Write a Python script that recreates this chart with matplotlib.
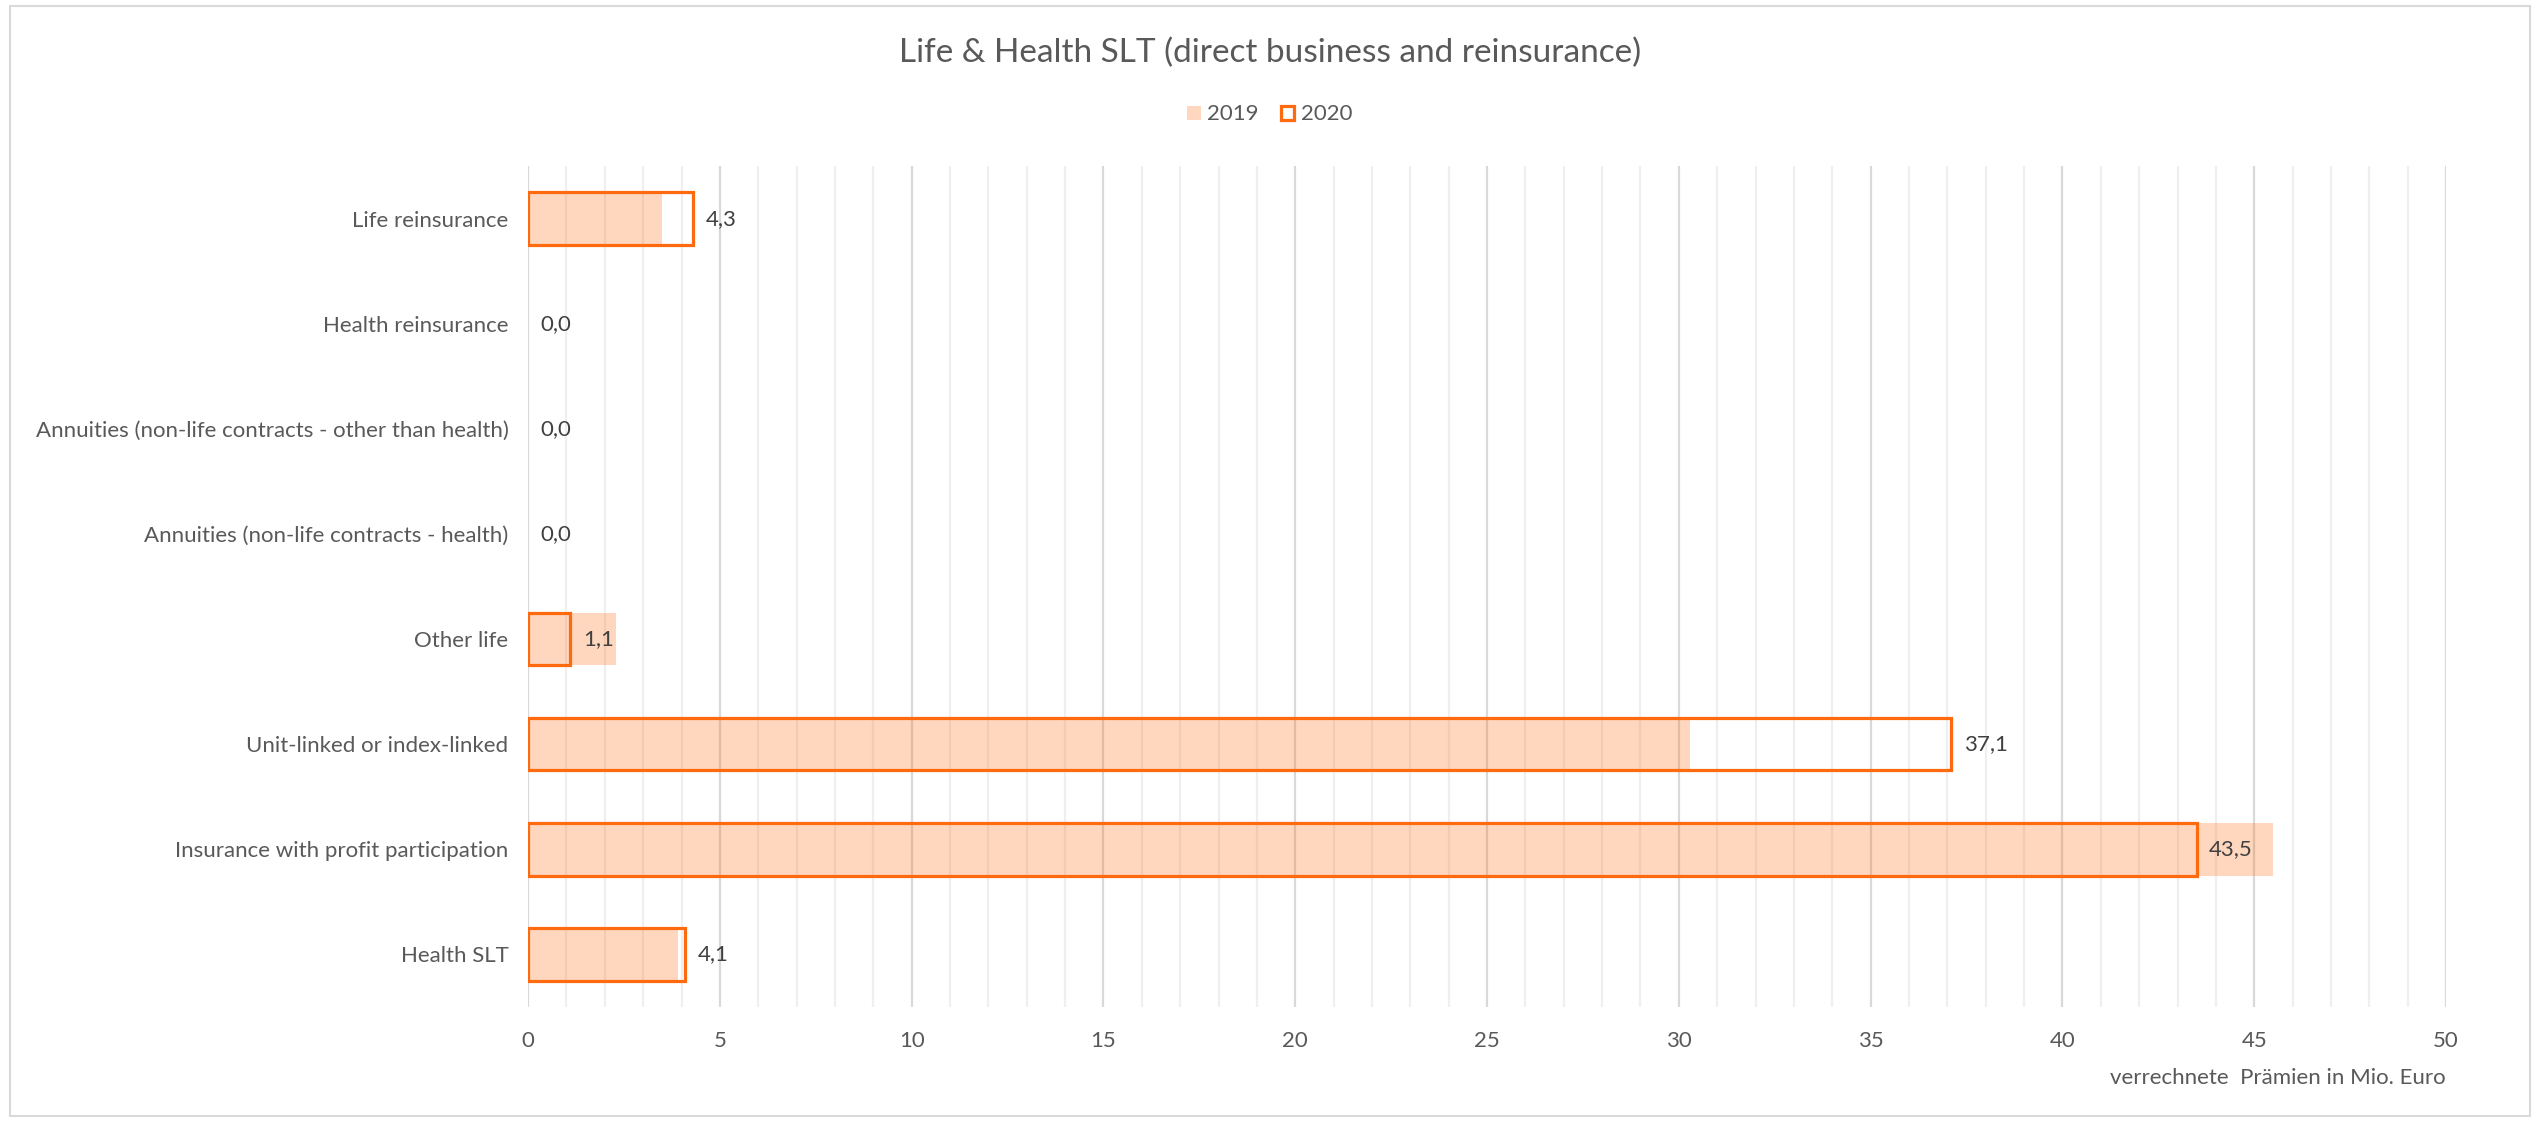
import matplotlib
matplotlib.use("Agg")
import matplotlib.pyplot as plt
from matplotlib.patches import Rectangle, Patch
import numpy as np

categories = [
    "Life reinsurance",
    "Health reinsurance",
    "Annuities (non-life contracts - other than health)",
    "Annuities (non-life contracts - health)",
    "Other life",
    "Unit-linked or index-linked",
    "Insurance with profit participation",
    "Health SLT",
]
values_2019 = [3.5, 0.0, 0.0, 0.0, 2.3, 30.3, 45.5, 3.9]
values_2020 = [4.3, 0.0, 0.0, 0.0, 1.1, 37.1, 43.5, 4.1]
series_names = ["2019", "2020"]
x_ticks = [0, 5, 10, 15, 20, 25, 30, 35, 40, 45, 50]

plt.rcParams['font.family'] = ['Lato', 'DejaVu Sans']
text_color = '#595959'
orange = '#FF6A0F'

fig = plt.figure(figsize=(25.4, 11.22), dpi=100)
ax = fig.add_axes([0.2079, 0.1025, 0.963 - 0.2079, 0.852 - 0.1025])

y = np.arange(len(categories))
ax.barh(y, values_2019, height=0.5, color=orange, alpha=0.27, linewidth=0,
        zorder=2, label=series_names[0])
bars20 = ax.barh(y, values_2020, height=0.5, fill=False, edgecolor=orange,
                 linewidth=2.3, zorder=3, label=series_names[1])
for b, v in zip(bars20, values_2020):
    if v == 0:
        b.set_edgecolor('none')
ax.bar_label(bars20, labels=[f"{v:.1f}".replace('.', ',') for v in values_2020],
             padding=9, fontsize=16, color='#404040')

ax.set_xlim(0, 50)
ax.set_ylim(len(categories) - 0.5, -0.5)
ax.set_yticks(y)
ax.set_yticklabels(categories, fontsize=16, color=text_color)
ax.set_xticks(x_ticks)
ax.set_xticklabels([str(t) for t in x_ticks], fontsize=16, color=text_color)
ax.set_xticks(np.arange(0, 51, 1), minor=True)
ax.tick_params(axis='both', length=0, which='both')
ax.tick_params(axis='y', pad=14)
ax.tick_params(axis='x', pad=17)
ax.grid(axis='x', which='major', color='#D9D9D9', linewidth=1.6, zorder=0)
ax.grid(axis='x', which='minor', color='#EFEFEF', linewidth=1.6, zorder=0)
ax.set_axisbelow(True)
for s in ax.spines.values():
    s.set_visible(False)

ax.text(1.0, -0.085, "verrechnete  Prämien in Mio. Euro", transform=ax.transAxes,
        ha='right', va='center', fontsize=16, color=text_color)

fig.text(0.5, 0.953, "Life & Health SLT (direct business and reinsurance)",
         ha='center', va='center', fontsize=24, color=text_color)

handles = [Patch(facecolor=orange, alpha=0.27, edgecolor='none'),
           Patch(facecolor='none', edgecolor=orange, linewidth=2.3)]
fig.legend(handles, series_names, loc='center', bbox_to_anchor=(0.5, 0.898),
           ncol=2, frameon=False, fontsize=16, labelcolor=text_color,
           handlelength=0.6, handleheight=0.6, handletextpad=0.3, columnspacing=1.0)

fig.add_artist(Rectangle((0.004, 0.005), 0.992, 0.99, transform=fig.transFigure,
                         fill=False, edgecolor='#D9D9D9', linewidth=1.5))

fig.savefig("out.png", dpi=100, facecolor='white')
